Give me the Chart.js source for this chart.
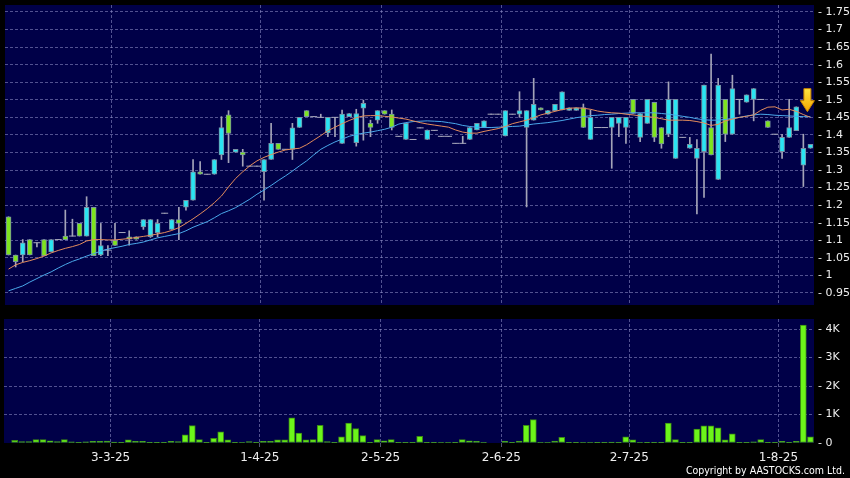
<!DOCTYPE html>
<html>
<head>
<meta charset="utf-8">
<script src="https://cdn.jsdelivr.net/npm/chart.js@4.4.1/dist/chart.umd.min.js"></script>
<style>
html, body { margin: 0; padding: 0; background: #000; }
#wrap { position: relative; width: 850px; height: 478px; overflow: hidden; background: #000; }
#price { position: absolute; left: 0; top: 0; }
#vol { position: absolute; left: 0; top: 310px; }
#copy { position: absolute; right: 5px; top: 464px; line-height: 13px; color: #fff;
        font: 10.5px "DejaVu Sans Condensed", "DejaVu Sans", sans-serif; white-space: nowrap; }
</style>
</head>
<body>
<div id="wrap">
  <canvas id="price" width="850" height="310"></canvas>
  <canvas id="vol" width="850" height="168"></canvas>
  <div id="copy">Copyright by AASTOCKS.com Ltd.</div>
</div>
<script>
// daily candles, oldest first
const opens = [1.167,1.058,1.058,1.102,1.093,1.102,1.067,1.102,1.112,1.112,
  1.148,1.112,1.194,1.058,1.072,1.100,1.122,1.110,1.110,1.138,
  1.110,1.122,1.177,1.131,1.159,1.194,1.214,1.295,1.288,1.288,
  1.343,1.457,1.351,1.351,1.311,1.311,1.295,1.330,1.376,1.359,
  1.359,1.421,1.469,1.452,1.450,1.406,1.450,1.376,1.452,1.378,
  1.476,1.433,1.442,1.469,1.459,1.396,1.387,1.387,1.420,1.387,
  1.413,1.396,1.396,1.376,1.376,1.387,1.414,1.421,1.459,1.459,
  1.397,1.459,1.459,1.421,1.442,1.477,1.459,1.469,1.471,1.470,
  1.470,1.478,1.387,1.421,1.421,1.421,1.433,1.421,1.501,1.393,
  1.433,1.493,1.421,1.402,1.333,1.393,1.362,1.333,1.352,1.421,
  1.273,1.501,1.402,1.501,1.493,1.501,1.501,1.440,1.402,1.352,
  1.393,1.412,1.314,1.362];
const highs = [1.167,1.058,1.102,1.102,1.093,1.102,1.102,1.102,1.186,1.160,
  1.148,1.224,1.194,1.148,1.085,1.148,1.122,1.127,1.110,1.159,
  1.159,1.159,1.177,1.159,1.194,1.214,1.330,1.324,1.288,1.330,
  1.452,1.469,1.359,1.359,1.311,1.311,1.330,1.433,1.376,1.359,
  1.433,1.450,1.469,1.452,1.459,1.450,1.450,1.471,1.461,1.473,
  1.499,1.442,1.469,1.469,1.471,1.396,1.433,1.387,1.420,1.414,
  1.413,1.396,1.396,1.376,1.396,1.421,1.433,1.440,1.459,1.459,
  1.469,1.459,1.523,1.469,1.561,1.477,1.469,1.487,1.523,1.477,
  1.477,1.488,1.471,1.421,1.421,1.450,1.450,1.450,1.501,1.461,
  1.501,1.493,1.421,1.551,1.501,1.393,1.393,1.387,1.542,1.630,
  1.561,1.501,1.570,1.501,1.514,1.532,1.501,1.440,1.402,1.402,
  1.501,1.480,1.402,1.373];
const lows = [1.058,1.024,1.039,1.058,1.081,1.056,1.067,1.102,1.102,1.112,
  1.112,1.112,1.056,1.056,1.056,1.085,1.122,1.086,1.103,1.131,
  1.108,1.110,1.177,1.131,1.102,1.186,1.214,1.288,1.288,1.288,
  1.330,1.321,1.351,1.311,1.311,1.311,1.214,1.330,1.359,1.359,
  1.330,1.421,1.452,1.452,1.450,1.395,1.395,1.376,1.452,1.368,
  1.385,1.395,1.433,1.459,1.414,1.396,1.387,1.387,1.420,1.387,
  1.413,1.396,1.396,1.376,1.376,1.387,1.414,1.421,1.459,1.459,
  1.397,1.459,1.450,1.195,1.442,1.471,1.459,1.469,1.471,1.470,
  1.470,1.421,1.387,1.421,1.421,1.305,1.395,1.376,1.461,1.381,
  1.433,1.381,1.362,1.395,1.333,1.393,1.362,1.175,1.222,1.343,
  1.273,1.381,1.402,1.459,1.493,1.440,1.501,1.421,1.402,1.333,
  1.393,1.412,1.253,1.362];
const closes = [1.058,1.039,1.093,1.058,1.093,1.056,1.102,1.102,1.102,1.112,
  1.112,1.194,1.056,1.085,1.072,1.085,1.122,1.103,1.103,1.159,
  1.159,1.148,1.177,1.159,1.148,1.214,1.295,1.288,1.288,1.330,
  1.421,1.404,1.359,1.343,1.311,1.311,1.330,1.376,1.359,1.359,
  1.420,1.450,1.452,1.452,1.450,1.450,1.450,1.459,1.461,1.461,
  1.490,1.421,1.469,1.459,1.421,1.396,1.433,1.387,1.420,1.414,
  1.413,1.396,1.396,1.376,1.376,1.421,1.433,1.440,1.459,1.459,
  1.469,1.459,1.469,1.469,1.487,1.471,1.469,1.487,1.523,1.477,
  1.477,1.421,1.450,1.421,1.421,1.450,1.450,1.450,1.461,1.461,
  1.501,1.393,1.374,1.501,1.501,1.393,1.373,1.362,1.542,1.343,
  1.542,1.402,1.532,1.501,1.514,1.532,1.501,1.421,1.402,1.393,
  1.421,1.480,1.362,1.373];
const maShort = [1.018,1.030,1.037,1.042,1.048,1.055,1.064,1.071,1.077,1.082,
  1.088,1.098,1.102,1.102,1.101,1.101,1.103,1.105,1.108,1.111,
  1.114,1.118,1.122,1.128,1.136,1.148,1.161,1.175,1.190,1.207,
  1.226,1.252,1.276,1.295,1.312,1.326,1.336,1.344,1.351,1.357,
  1.360,1.362,1.372,1.385,1.398,1.412,1.422,1.432,1.441,1.449,
  1.454,1.455,1.455,1.453,1.451,1.448,1.445,1.440,1.435,1.431,
  1.428,1.425,1.422,1.414,1.408,1.405,1.405,1.410,1.414,1.418,
  1.424,1.432,1.437,1.442,1.449,1.457,1.462,1.467,1.472,1.476,
  1.477,1.476,1.473,1.468,1.465,1.463,1.462,1.459,1.457,1.454,
  1.452,1.450,1.446,1.442,1.442,1.442,1.441,1.438,1.434,1.427,
  1.430,1.440,1.445,1.450,1.453,1.457,1.470,1.479,1.480,1.471,
  1.473,1.467,1.458,1.450];
const maLong = [0.956,0.963,0.970,0.981,0.991,1.001,1.010,1.021,1.031,1.040,
  1.047,1.055,1.062,1.069,1.075,1.079,1.083,1.088,1.091,1.095,
  1.101,1.107,1.111,1.115,1.119,1.127,1.137,1.145,1.153,1.164,
  1.176,1.184,1.193,1.205,1.217,1.231,1.243,1.256,1.270,1.283,
  1.297,1.312,1.326,1.343,1.359,1.370,1.380,1.388,1.396,1.401,
  1.405,1.408,1.412,1.416,1.422,1.431,1.435,1.438,1.439,1.440,
  1.439,1.438,1.435,1.432,1.427,1.424,1.422,1.421,1.421,1.422,
  1.423,1.424,1.425,1.428,1.431,1.433,1.435,1.438,1.441,1.445,
  1.449,1.452,1.455,1.456,1.458,1.459,1.461,1.462,1.463,1.463,
  1.463,1.463,1.461,1.459,1.456,1.453,1.450,1.446,1.443,1.442,
  1.442,1.444,1.447,1.450,1.454,1.457,1.459,1.458,1.456,1.455,
  1.454,1.453,1.452,1.452];
const volumes = [0,90,50,50,120,120,80,50,120,40,
  10,40,60,60,70,30,10,110,60,60,
  10,10,10,60,50,290,610,120,10,160,
  390,110,10,20,50,10,60,60,110,110,
  880,350,110,120,620,50,10,220,700,510,
  260,10,120,80,120,10,10,10,230,10,
  10,20,20,10,120,80,60,20,0,0,
  60,10,70,620,820,20,20,70,200,10,
  10,20,20,10,10,30,10,220,110,20,
  10,10,10,700,120,10,10,490,600,600,
  530,110,320,10,10,40,120,10,10,60,
  10,60,4140,220];

// first session of each month shown on the time axis
const monthIdx = [15, 36, 53, 70, 88, 109];
const monthLabels = ['3-3-25', '1-4-25', '2-5-25', '2-6-25', '2-7-25', '1-8-25'];
const priceTicks = [0.95,1,1.05,1.1,1.15,1.2,1.25,1.3,1.35,1.4,1.45,1.5,1.55,1.6,1.65,1.7,1.75];
const volTicks = [0, 1000, 2000, 3000, 4000];

const NAVY = '#000048';
const GRID = 'rgba(150,150,205,0.55)';
const CYAN = '#2ae4f2';
const LIME = '#7ee41e';
const LABEL = '#eeeeee';
const FONT = 'DejaVu Sans';

const n = closes.length;
const idx = closes.map((_, i) => i);
const slot = 810 / n;

const panelBg = {
  id: 'panelBg',
  beforeDraw(chart) {
    const a = chart.chartArea;
    chart.ctx.save();
    chart.ctx.fillStyle = NAVY;
    chart.ctx.fillRect(a.left, a.top, a.right - a.left, a.bottom - a.top);
    chart.ctx.restore();
  }
};

// yellow marker above the last session
const lastArrow = {
  id: 'lastArrow',
  afterDatasetsDraw(chart) {
    const { ctx, scales: { x, y } } = chart;
    const cx = (x.getPixelForValue(n - 1) + x.getPixelForValue(n - 2)) / 2 + 0.5;
    const tip = y.getPixelForValue(maLong[n - 1]) - 5;
    const g = ctx.createLinearGradient(0, tip - 23, 0, tip);
    g.addColorStop(0, '#ffe640');
    g.addColorStop(1, '#f2a400');
    ctx.save();
    ctx.beginPath();
    ctx.moveTo(cx - 3.5, tip - 23);
    ctx.lineTo(cx + 3.5, tip - 23);
    ctx.lineTo(cx + 3.5, tip - 11);
    ctx.lineTo(cx + 7, tip - 11);
    ctx.lineTo(cx, tip);
    ctx.lineTo(cx - 7, tip - 11);
    ctx.lineTo(cx - 3.5, tip - 11);
    ctx.closePath();
    ctx.fillStyle = g;
    ctx.fill();
    ctx.strokeStyle = '#c98400';
    ctx.lineWidth = 1;
    ctx.stroke();
    ctx.restore();
  }
};

const monthGrid = c => monthIdx.includes(c.index) ? GRID : 'rgba(0,0,0,0)';
const noPad = s => { s.paddingTop = 0; s.paddingBottom = 0; s.paddingLeft = 0; s.paddingRight = 0; };

new Chart(document.getElementById('price'), {
  type: 'bar',
  data: {
    labels: idx,
    datasets: [
      { type: 'line', data: maShort, borderColor: '#e48c5c', borderWidth: 1, pointRadius: 0, order: 0 },
      { type: 'line', data: maLong, borderColor: '#4aa8ea', borderWidth: 1, pointRadius: 0, order: 0 },
      { type: 'line', data: idx.map(i => opens[i] === closes[i] ? opens[i] : null), showLine: false,
        pointStyle: 'line', pointRadius: 3.5, pointBorderColor: '#a8a8bc', pointBorderWidth: 1, order: 1 },
      { data: idx.map(i => opens[i] === closes[i] ? null : [opens[i], closes[i]]),
        backgroundColor: idx.map(i => closes[i] > opens[i] ? CYAN : LIME),
        borderColor: '#7890a4', borderWidth: 1, borderSkipped: false,
        barThickness: 5, grouped: false, order: 2 },
      { data: idx.map(i => [lows[i], highs[i]]), backgroundColor: '#a4a4b8',
        barThickness: 1, grouped: false, order: 3 }
    ]
  },
  options: {
    responsive: false,
    animation: false,
    layout: { padding: { left: 4, top: 5, right: 0, bottom: 0 } },
    plugins: { legend: { display: false }, tooltip: { enabled: false } },
    scales: {
      x: {
        offset: true,
        grid: { offset: true, color: monthGrid, drawTicks: false },
        border: { display: false, dash: [3, 2] },
        ticks: { display: false },
        afterFit: s => { s.height = 5; noPad(s); }
      },
      y: {
        position: 'right',
        min: 0.9157, max: 1.7699,
        afterBuildTicks: s => { s.ticks = priceTicks.map(v => ({ value: v })); },
        afterFit: s => { s.width = 36; noPad(s); },
        grid: { color: GRID, drawTicks: false },
        border: { display: false, dash: [3, 2] },
        ticks: { padding: 4, color: LABEL, font: { family: FONT, size: 11 },
                 callback: v => '- ' + (+v.toFixed(2)) }
      }
    }
  },
  plugins: [panelBg, lastArrow]
});

new Chart(document.getElementById('vol'), {
  type: 'bar',
  data: {
    labels: idx,
    datasets: [{
      data: volumes, backgroundColor: '#6cf51a', borderColor: '#3b8a14', borderWidth: 1,
      borderSkipped: false, barThickness: 6
    }]
  },
  options: {
    responsive: false,
    animation: false,
    layout: { padding: { left: 4, top: 9, right: 0, bottom: 0 } },
    plugins: { legend: { display: false }, tooltip: { enabled: false } },
    scales: {
      x: {
        offset: true,
        grid: { offset: true, color: monthGrid, tickColor: monthGrid, tickLength: 4 },
        border: { display: false, dash: [3, 2] },
        ticks: {
          autoSkip: false, maxRotation: 0, minRotation: 0, padding: 4,
          labelOffset: -slot / 2, color: LABEL, font: { family: FONT, size: 12 },
          callback: (v, i) => { const k = monthIdx.indexOf(i); return k >= 0 ? monthLabels[k] : ''; }
        },
        afterFit: s => { s.height = 35; noPad(s); }
      },
      y: {
        position: 'right',
        min: 0, max: 4351,
        afterBuildTicks: s => { s.ticks = volTicks.map(v => ({ value: v })); },
        afterFit: s => { s.width = 36; noPad(s); },
        grid: { color: c => c.tick && c.tick.value === 0 ? 'rgba(0,0,0,0)' : GRID, drawTicks: false },
        border: { display: false, dash: [3, 2] },
        ticks: { padding: 4, color: LABEL, font: { family: FONT, size: 11 },
                 callback: v => '- ' + (v === 0 ? '0' : v / 1000 + 'K') }
      }
    }
  },
  plugins: [panelBg]
});
</script>
</body>
</html>
